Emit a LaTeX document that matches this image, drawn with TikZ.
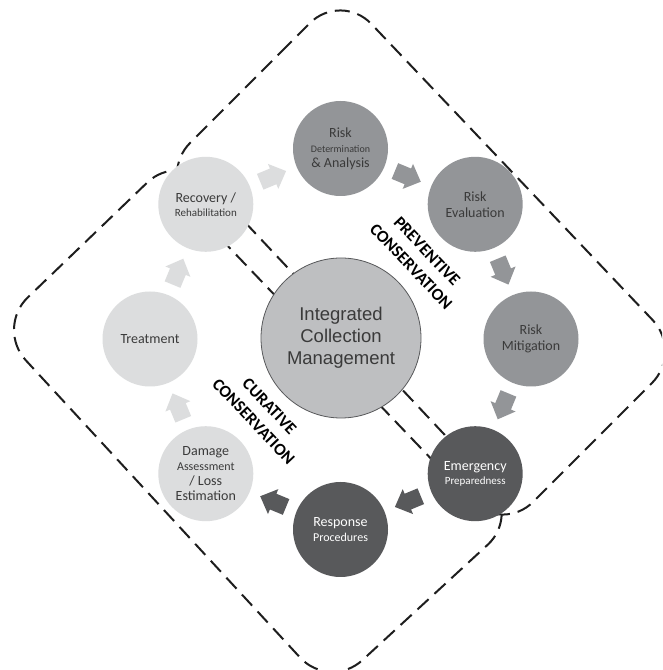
\documentclass[tikz,border=0pt]{standalone}
\usepackage{fontspec}
\setmainfont{Carlito}
\newfontfamily\arialf{Liberation Sans}
\usetikzlibrary{calc}
\definecolor{cLight}{HTML}{DCDDDE}
\definecolor{cMid}{HTML}{939598}
\definecolor{cDark}{HTML}{58595B}
\definecolor{cCore}{HTML}{BEBFC1}
\definecolor{cText}{HTML}{3A3A3A}
\definecolor{cLine}{HTML}{1E1E1E}
\newcommand\blockarrow[4]{%
  \fill[#1, shift={($(#2)!0.5!(#3)$)}, rotate=#4]
    (-14,-8.5) -- (0,-8.5) -- (0,-13.5) -- (14,0) -- (0,13.5) -- (0,8.5) -- (-14,8.5) -- cycle;}
\newcommand\smallt[2]{{\fontsize{#1}{#1}\selectfont #2}}
\begin{document}
\begin{tikzpicture}[x=1pt,y=1pt,
  disc/.style={circle, minimum size=95pt, inner sep=0pt, align=center, font=\fontsize{14}{15}\selectfont},
  lightdisc/.style={disc, fill=cLight, text=cText},
  middisc/.style={disc, fill=cMid, text=cText},
  darkdisc/.style={disc, fill=cDark, text=white},
  zone/.style={draw=cLine, line width=2pt, dash pattern=on 15pt off 8pt, rounded corners=44pt},
  label/.style={rotate=-46.5, align=center, text=black, font=\bfseries\fontsize{17}{22}\selectfont}]
\useasboundingbox (0,0) rectangle (662,670);
\fill[white] (0,0) rectangle (662,670);
\clip (0,0) rectangle (662,670);
% zones
\coordinate (pT) at (341,678);
\coordinate (pR) at (683,318);
\coordinate (pB) at (502,137);
\coordinate (pL) at (159,496);
\coordinate (cL) at (-4,342);
\coordinate (cT) at (179,518);
\coordinate (cR) at (520,155);
\coordinate (cB) at (330,-20);
\draw[zone] ($(pL)!0.5!(pT)$) -- (pT) -- (pR) -- (pB) -- (pL) -- cycle;
\draw[zone] ($(cL)!0.5!(cT)$) -- (cT) -- (cR) -- (cB) -- (cL) -- cycle;
% ring
\coordinate (O) at (340.5,331);
\node[middisc] (rd) at ($(O)+(90:190.5)$) {Risk\\\smallt{10}{Determination}\\\& Analysis};
\node[middisc, font=\fontsize{14}{16}\selectfont] (re) at ($(O)+(45:190.5)$) {Risk\\Evaluation};
\node[middisc, font=\fontsize{14}{16}\selectfont] (rm) at ($(O)+(0:190.5)$) {Risk\\Mitigation};
\node[darkdisc, font=\fontsize{14}{14}\selectfont] (em) at ($(O)+(-45:190.5)$) {Emergency\\\smallt{11}{Preparedness}};
\node[darkdisc] (rp) at ($(O)+(-90:190.5)$) {Response\\\smallt{12}{Procedures}};
\node[lightdisc] (da) at ($(O)+(-135:190.5)$) {Damage\\\smallt{12}{Assessment}\\/ Loss\\Estimation};
\node[lightdisc] (tr) at ($(O)+(180:190.5)$) {Treatment};
\node[lightdisc, font=\fontsize{14}{14}\selectfont] (rc) at ($(O)+(135:190.5)$) {Recovery /\\\smallt{11}{Rehabilitation}};
% core
\node[circle, minimum size=160pt, inner sep=0pt, fill=cCore, draw=cDark, line width=0.8pt,
      align=center, text=cText, font=\arialf\fontsize{18.5}{22}\selectfont] (core) at (341,332)
      {Integrated\\Collection\\Management};
% arrows
\blockarrow{cLight}{rc}{rd}{22.5}
\blockarrow{cMid}{rd}{re}{-22.5}
\blockarrow{cMid}{re}{rm}{-67.5}
\blockarrow{cMid}{rm}{em}{-112.5}
\blockarrow{cDark}{em}{rp}{-157.5}
\blockarrow{cDark}{rp}{da}{157.5}
\blockarrow{cLight}{da}{tr}{112.5}
\blockarrow{cLight}{tr}{rc}{67.5}
% labels
\node[label] (prev) at (419,411) {PREVENTIVE\\CONSERVATION};
\node[label] (cur) at (261.5,256) {CURATIVE\\CONSERVATION};
\end{tikzpicture}
\end{document}
